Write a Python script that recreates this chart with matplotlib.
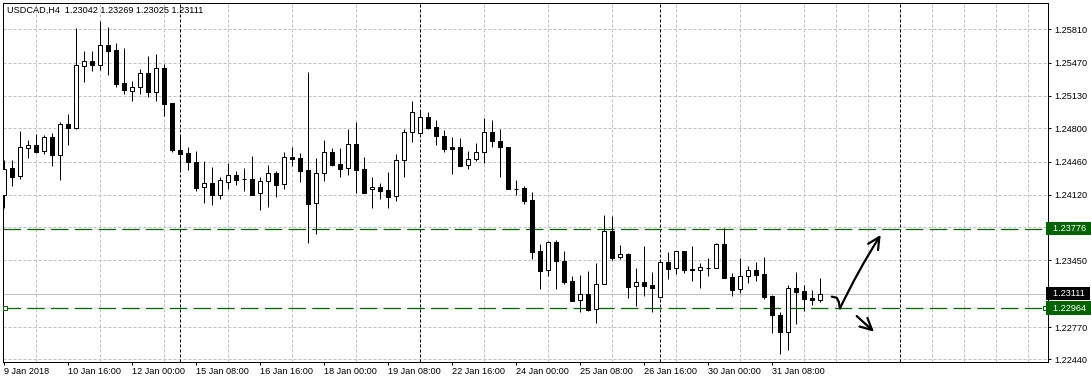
import numpy as np
import matplotlib
matplotlib.use('Agg')
import matplotlib.pyplot as plt
from matplotlib.transforms import blended_transform_factory

plt.rcParams['font.family'] = ['Liberation Sans', 'DejaVu Sans']

# USDCAD H4 candles, first bar = 9 Jan 2018 08:00
opens = [1.24115, 1.24391, 1.24309, 1.24601, 1.24626, 1.24564, 1.24707, 1.24530, 1.24843, 1.24805,
         1.25439, 1.25484, 1.25449, 1.25647, 1.25599, 1.25259, 1.25177, 1.25218, 1.25364, 1.25173,
         1.25412, 1.25055, 1.24578, 1.24544, 1.24452, 1.24197, 1.24238, 1.24115, 1.24248, 1.24319,
         1.24282, 1.24282, 1.24136, 1.24258, 1.24340, 1.24227, 1.24503, 1.24493, 1.24370, 1.24033,
         1.24340, 1.24554, 1.24432, 1.24391, 1.24636, 1.24381, 1.24176, 1.24197, 1.24169, 1.24105,
         1.24473, 1.24758, 1.24748, 1.24912, 1.24810, 1.24721, 1.24608, 1.24605, 1.24421, 1.24483,
         1.24554, 1.24758, 1.24667, 1.24605, 1.24183, 1.24187, 1.24064, 1.23546, 1.23349, 1.23638,
         1.23444, 1.23237, 1.23043, 1.23104, 1.22951, 1.23206, 1.23747, 1.23482, 1.23516, 1.23186,
         1.23227, 1.23199, 1.23074, 1.23431, 1.23370, 1.23543, 1.23362, 1.23349, 1.23370, 1.23370,
         1.23615, 1.23281, 1.23155, 1.23288, 1.23352, 1.23308, 1.23087, 1.22893, 1.22722, 1.23168,
         1.23138, 1.23066, 1.23042]
highs = [1.24476, 1.24473, 1.24772, 1.24677, 1.24741, 1.24728, 1.24751, 1.24864, 1.24945, 1.25824,
         1.25589, 1.25589, 1.25898, 1.25831, 1.25670, 1.25619, 1.25282, 1.25405, 1.25538, 1.25558,
         1.25461, 1.25058, 1.24738, 1.24608, 1.24568, 1.24465, 1.24404, 1.24302, 1.24445, 1.24360,
         1.24394, 1.24516, 1.24299, 1.24425, 1.24363, 1.24554, 1.24608, 1.24547, 1.25374, 1.24493,
         1.24680, 1.24598, 1.24598, 1.24792, 1.24864, 1.24506, 1.24302, 1.24241, 1.24353, 1.24537,
         1.24789, 1.25078, 1.24986, 1.24966, 1.24884, 1.24782, 1.24710, 1.24700, 1.24568, 1.24649,
         1.24905, 1.24884, 1.24792, 1.24605, 1.24268, 1.24213, 1.24146, 1.23615, 1.23651, 1.23662,
         1.23546, 1.23294, 1.23301, 1.23342, 1.23424, 1.23914, 1.23904, 1.23608, 1.23523, 1.23376,
         1.23600, 1.23329, 1.23434, 1.23533, 1.23546, 1.23551, 1.23600, 1.23421, 1.23472, 1.23625,
         1.23786, 1.23325, 1.23475, 1.23396, 1.23431, 1.23485, 1.23094, 1.22923, 1.23199, 1.23332,
         1.23199, 1.23145, 1.23269]
lows = [1.23982, 1.24213, 1.24285, 1.24499, 1.24547, 1.24539, 1.24417, 1.24274, 1.24632, 1.24797,
        1.25275, 1.25388, 1.25398, 1.25347, 1.25224, 1.25153, 1.25078, 1.25153, 1.25122, 1.25081,
        1.24925, 1.24560, 1.24350, 1.24377, 1.24156, 1.24040, 1.24019, 1.24080, 1.24183, 1.24217,
        1.24159, 1.24121, 1.23968, 1.23999, 1.24101, 1.24183, 1.24414, 1.24254, 1.23631, 1.23717,
        1.24264, 1.24417, 1.24305, 1.24325, 1.24142, 1.24142, 1.23988, 1.24080, 1.23988, 1.24060,
        1.24305, 1.24656, 1.24745, 1.24795, 1.24629, 1.24560, 1.24336, 1.24417, 1.24387, 1.24462,
        1.24448, 1.24605, 1.24305, 1.24183, 1.24115, 1.24029, 1.23468, 1.23161, 1.23294, 1.23161,
        1.23212, 1.23039, 1.22926, 1.22934, 1.22814, 1.23206, 1.23451, 1.23462, 1.23069, 1.22988,
        1.23090, 1.22926, 1.23066, 1.23260, 1.23311, 1.23319, 1.23243, 1.23172, 1.23294, 1.23370,
        1.23274, 1.23087, 1.23120, 1.23216, 1.23240, 1.23056, 1.22712, 1.22498, 1.22535, 1.22801,
        1.22937, 1.22995, 1.23025]
closes = [1.24381, 1.24305, 1.24605, 1.24626, 1.24560, 1.24707, 1.24530, 1.24840, 1.24805, 1.25443,
          1.25484, 1.25449, 1.25647, 1.25592, 1.25255, 1.25187, 1.25221, 1.25361, 1.25173, 1.25412,
          1.25050, 1.24578, 1.24540, 1.24452, 1.24193, 1.24238, 1.24115, 1.24268, 1.24319, 1.24274,
          1.24282, 1.24121, 1.24258, 1.24340, 1.24223, 1.24503, 1.24489, 1.24366, 1.24029, 1.24340,
          1.24554, 1.24428, 1.24387, 1.24636, 1.24377, 1.24142, 1.24200, 1.24156, 1.24101, 1.24473,
          1.24758, 1.24963, 1.24912, 1.24805, 1.24724, 1.24591, 1.24591, 1.24417, 1.24483, 1.24554,
          1.24758, 1.24667, 1.24605, 1.24183, 1.24183, 1.24060, 1.23539, 1.23345, 1.23635, 1.23447,
          1.23230, 1.23039, 1.23104, 1.22947, 1.23206, 1.23747, 1.23478, 1.23513, 1.23182, 1.23227,
          1.23192, 1.23172, 1.23431, 1.23366, 1.23543, 1.23349, 1.23349, 1.23380, 1.23370, 1.23615,
          1.23274, 1.23148, 1.23288, 1.23352, 1.23304, 1.23077, 1.22890, 1.22722, 1.23168, 1.23131,
          1.23059, 1.23043, 1.23111]

# time axis labels (every 8 bars)
dateLabels = ['9 Jan 2018', '10 Jan 16:00', '12 Jan 00:00', '15 Jan 08:00', '16 Jan 16:00',
              '18 Jan 00:00', '19 Jan 08:00', '22 Jan 16:00', '24 Jan 00:00', '25 Jan 08:00',
              '26 Jan 16:00', '30 Jan 00:00', '31 Jan 08:00']
weekStartBars = [22, 52, 82, 112]

# price scale labels
priceTicks = [1.22440, 1.22770, 1.23110, 1.23450, 1.23790, 1.24120, 1.24460, 1.24800, 1.25130, 1.25470, 1.25810]
priceTickLabels = ['1.22440', '1.22770', '', '1.23450', '', '1.24120', '1.24460', '1.24800', '1.25130', '1.25470', '1.25810']

# horizontal levels
resistanceLevel = 1.23776
supportLevel = 1.22964
bidPrice = 1.23111
header = 'USDCAD,H4  1.23042 1.23269 1.23025 1.23111'

# hand drawn arrows (bar index, price)
hookPath = [(103.53, 1.23080), (104.15, 1.23069), (104.40, 1.23029), (104.56, 1.22961)]
upArrow = ((104.56, 1.22961), (109.65, 1.23710))
downArrow = ((106.65, 1.22882), (108.81, 1.22722))

GREEN = '#006400'
GRID = '#c0c0c0'
PX = 0.72  # one pixel in points at 100 dpi
FS = 6.6

fig = plt.figure(figsize=(10.91, 3.83), dpi=100)
ax = fig.add_axes([2.5 / 1091, 1 - 362 / 383, (1048.3 - 2.5) / 1091, (362 - 2.5) / 383])

bars = np.arange(len(opens))
o = np.array(opens)
c = np.array(closes)

# wicks
ax.vlines(bars, lows, highs, color='black', linewidth=PX, zorder=3)

# bodies
bodyColors = ['white' if cl > op else 'black' for op, cl in zip(o, c)]
ax.bar(bars, np.abs(c - o), bottom=np.minimum(o, c), width=0.5, color=bodyColors,
       edgecolor='black', linewidth=PX, zorder=4)

# levels
ax.axhline(bidPrice, color=GRID, linewidth=PX, zorder=2)
ax.axhline(resistanceLevel, color=GREEN, linewidth=0.9, linestyle=(0, (14, 5)), zorder=2.5)
ax.axhline(supportLevel, color=GREEN, linewidth=0.9, linestyle=(0, (14, 5)), zorder=2.5)
mix = blended_transform_factory(ax.transAxes, ax.transData)
ax.plot([0.0025, 0.9965], [supportLevel, supportLevel], 's', ms=3, mfc='white', mec=GREEN,
        mew=PX, transform=mix, zorder=5, clip_on=False)

# weekly separators
for b in weekStartBars:
    ax.axvline(b, color='black', linewidth=PX, linestyle=(0, (3, 2)), zorder=2)

# arrows
hx, hy = zip(*hookPath)
ax.plot(hx, hy, color='black', linewidth=1.6, solid_capstyle='round', zorder=6)
ax.annotate('', xy=upArrow[1], xytext=upArrow[0],
            arrowprops=dict(arrowstyle='->,head_length=0.7,head_width=0.35', lw=1.6, color='black',
                            mutation_scale=12, shrinkA=0, shrinkB=0, connectionstyle='arc3,rad=-0.03'),
            zorder=6)
ax.annotate('', xy=downArrow[1], xytext=downArrow[0],
            arrowprops=dict(arrowstyle='->,head_length=0.7,head_width=0.35', lw=1.6, color='black',
                            mutation_scale=12, shrinkA=0, shrinkB=0),
            zorder=6)

# axes, ticks and grid
ax.set_xlim(-0.125, 130.6)
ax.set_ylim(1.224127, 1.26084)
ax.yaxis.tick_right()
ax.set_yticks(priceTicks)
ax.set_yticklabels(priceTickLabels)
ax.set_xticks(np.arange(len(dateLabels)) * 8)
ax.set_xticklabels(dateLabels, ha='left')
ax.set_xticks(np.arange(0, 131, 4), minor=True)
ax.tick_params(axis='both', which='major', direction='out', length=2.2, width=PX,
               labelsize=FS, colors='black')
ax.tick_params(axis='x', which='major', pad=1.5)
ax.tick_params(axis='y', which='major', pad=2.2)
ax.tick_params(axis='x', which='minor', length=0)
ax.grid(True, axis='y', which='major', color=GRID, linewidth=PX, linestyle=(0, (3, 2)), zorder=0)
ax.grid(True, axis='x', which='minor', color=GRID, linewidth=PX, linestyle=(0, (3, 2)), zorder=0)
ax.set_axisbelow(True)
for sp in ax.spines.values():
    sp.set_linewidth(PX)
    sp.set_color('black')

# price labels on the scale
boxStyle = 'square,pad=0.25'
for price, bg in [(resistanceLevel, GREEN), (bidPrice, 'black'), (supportLevel, GREEN)]:
    ax.text(1.0, price, '  %.5f ' % price, transform=mix, ha='left', va='center', fontsize=FS,
            color='white', bbox=dict(boxstyle=boxStyle, fc=bg, ec='none'), zorder=10, clip_on=False)

fig.text(7 / 1091, 1 - 10.7 / 383, header, fontsize=FS, ha='left', va='center', color='black')

fig.savefig('out.png', dpi=100)
